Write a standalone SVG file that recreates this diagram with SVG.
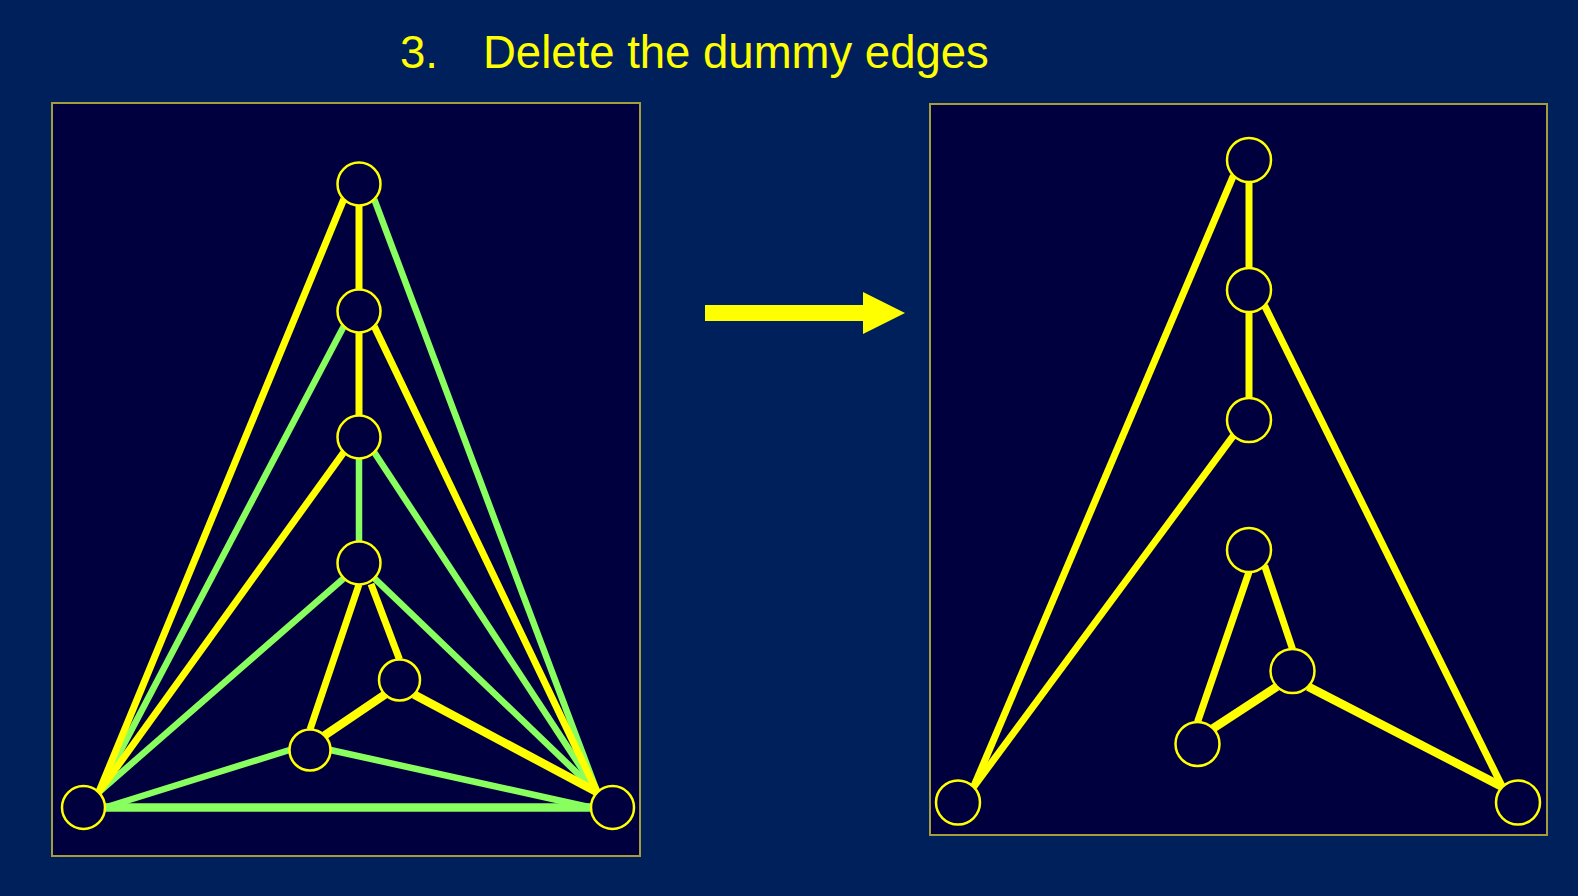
<svg xmlns="http://www.w3.org/2000/svg" width="1578" height="896" viewBox="0 0 1578 896">
<style>
.bg{fill:#00205c}
.panel{fill:#00003f;stroke:#a59d3c;stroke-width:2}
.node{fill:#00003f;stroke:#ffff00;stroke-width:2.5}
.y{stroke:#ffff00;stroke-width:7}
.yt{stroke:#ffff00;stroke-width:8.5}
.g{stroke:#88ff5e;stroke-width:6.5}
.gt{stroke:#88ff5e;stroke-width:8.5}
.title{font-family:"Liberation Sans",Arial,sans-serif;font-size:45.5px;fill:#ffff00}
</style>
<rect class="bg" x="0" y="0" width="1578" height="896"/>
<g id="title">
<text class="title" x="400" y="68">3.</text>
<text class="title" x="483" y="68">Delete the dummy edges</text>
</g>
<g id="left-panel"><rect class="panel" x="52" y="103" width="588" height="753"/></g>
<g id="right-panel"><rect class="panel" x="930" y="104" width="617" height="731"/></g>
<g id="arrow"><polygon points="705,305 863,305 863,292 905,313 863,334 863,321 705,321" fill="#ffff00"/></g>
<g id="connectors-left">
<line class="gt" x1="105" y1="807.5" x2="591" y2="807.5"/>
<line class="g" x1="374.2" y1="199.2" x2="597.3" y2="792.3"/>
<line class="g" x1="343.8" y1="326.2" x2="98.7" y2="792.3"/>
<line class="g" x1="359" y1="458.5" x2="359" y2="541.5"/>
<line class="g" x1="374.2" y1="452.2" x2="597.3" y2="792.3"/>
<line class="g" x1="343.8" y1="578.2" x2="98.7" y2="792.3"/>
<line class="g" x1="374.2" y1="578.2" x2="597.3" y2="792.3"/>
<line class="g" x1="289.5" y1="750" x2="105" y2="807.5"/>
<line class="g" x1="330.5" y1="750" x2="591" y2="807.5"/>
<line class="y" x1="359" y1="205.5" x2="359" y2="289.5"/>
<line class="y" x1="359" y1="332.5" x2="359" y2="415.5"/>
<line class="y" x1="343.8" y1="199.2" x2="98.7" y2="792.3"/>
<line class="y" x1="374.2" y1="326.2" x2="597.3" y2="792.3"/>
<line class="y" x1="343.8" y1="452.2" x2="98.7" y2="792.3"/>
<line class="y" x1="359" y1="584.5" x2="310" y2="729.5"/>
<line class="y" x1="371" y1="584" x2="399.5" y2="659.5"/>
<line class="yt" x1="385" y1="694.5" x2="324.5" y2="735.5"/>
<line class="yt" x1="414" y1="694.5" x2="597.3" y2="792.3"/>
</g>
<g id="connectors-right">
<line class="y" x1="1249" y1="182" x2="1249" y2="268"/>
<line class="y" x1="1249" y1="312" x2="1249" y2="398"/>
<line class="y" x1="1233.4" y1="175.6" x2="973.6" y2="786.9"/>
<line class="y" x1="1264.6" y1="305.6" x2="1502.4" y2="786.9"/>
<line class="y" x1="1233.4" y1="435.6" x2="973.6" y2="786.9"/>
<line class="y" x1="1249" y1="572" x2="1197.5" y2="722"/>
<line class="y" x1="1264.6" y1="565.6" x2="1292.5" y2="649"/>
<line class="yt" x1="1276.9" y1="686.6" x2="1213.1" y2="728.4"/>
<line class="yt" x1="1308.1" y1="686.6" x2="1502.4" y2="786.9"/>
</g>
<g id="L1"><circle class="node" cx="359" cy="184" r="21.5"/></g>
<g id="L2"><circle class="node" cx="359" cy="311" r="21.5"/></g>
<g id="L3"><circle class="node" cx="359" cy="437" r="21.5"/></g>
<g id="L4"><circle class="node" cx="359" cy="563" r="21.5"/></g>
<g id="L5"><circle class="node" cx="399.5" cy="680" r="20.5"/></g>
<g id="L6"><circle class="node" cx="310" cy="750" r="20.5"/></g>
<g id="L7"><circle class="node" cx="83.5" cy="807.5" r="21.5"/></g>
<g id="L8"><circle class="node" cx="612.5" cy="807.5" r="21.5"/></g>
<g id="R1"><circle class="node" cx="1249" cy="160" r="22"/></g>
<g id="R2"><circle class="node" cx="1249" cy="290" r="22"/></g>
<g id="R3"><circle class="node" cx="1249" cy="420" r="22"/></g>
<g id="R4"><circle class="node" cx="1249" cy="550" r="22"/></g>
<g id="R5"><circle class="node" cx="1292.5" cy="671" r="22"/></g>
<g id="R6"><circle class="node" cx="1197.5" cy="744" r="22"/></g>
<g id="R7"><circle class="node" cx="958" cy="802.5" r="22"/></g>
<g id="R8"><circle class="node" cx="1518" cy="802.5" r="22"/></g>
</svg>
